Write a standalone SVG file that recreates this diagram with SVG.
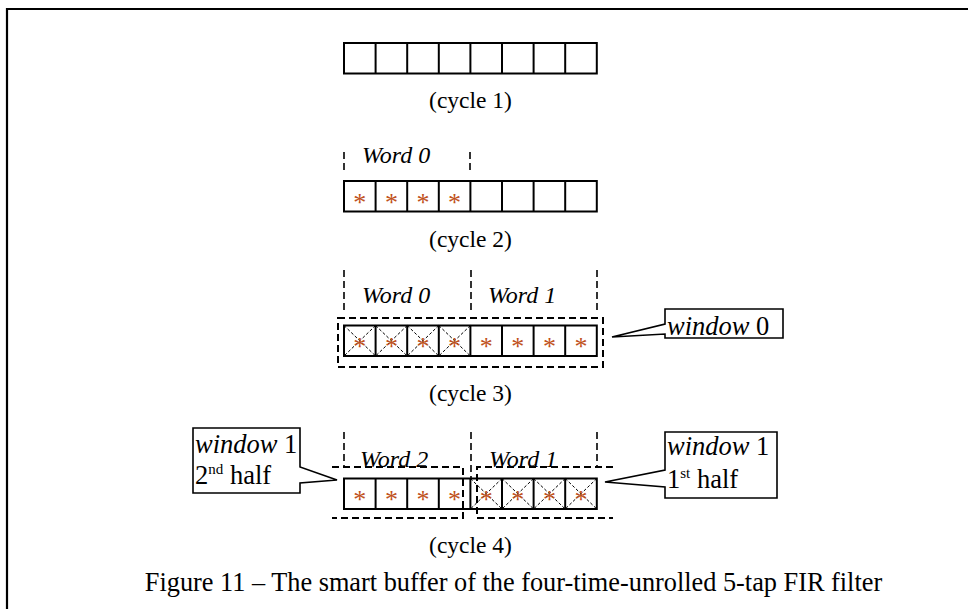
<svg xmlns="http://www.w3.org/2000/svg" width="968" height="609" viewBox="0 0 968 609">
  <style>
    .frame { fill: none; stroke: #000; stroke-width: 2.2; }
    .cell { fill: #fff; stroke: #000; stroke-width: 2; }
    .div { stroke: #000; stroke-width: 2; }
    .dash { fill: none; stroke: #000; stroke-width: 2; stroke-dasharray: 7 4; }
    .vdash { fill: none; stroke: #000; stroke-width: 1.6; stroke-dasharray: 7 4; }
    .diag { stroke: #000; stroke-width: 1; stroke-dasharray: 3 2; }
    .callout { fill: #fff; stroke: #000; stroke-width: 1.6; }
    .lbl { font-family: "Liberation Serif", "Times New Roman", serif; font-size: 23.5px; fill: #000; }
    .word { font-family: "Liberation Serif", "Times New Roman", serif; font-size: 24px; font-style: italic; fill: #000; }
    .co { font-family: "Liberation Serif", "Times New Roman", serif; font-size: 26.5px; fill: #000; }
    .star { font-family: "Liberation Serif", "Times New Roman", serif; font-size: 26px; fill: #c0501a; text-anchor: middle; }
    .cap { font-family: "Liberation Serif", "Times New Roman", serif; font-size: 26.3px; fill: #000; text-anchor: middle; }
  </style>
  <defs>
    <!-- one row of eight buffer cells -->
    <g id="row">
      <rect class="cell" x="0" y="0" width="252.8" height="30.5"/>
      <line class="div" x1="31.6" y1="0" x2="31.6" y2="30.5"/>
      <line class="div" x1="63.2" y1="0" x2="63.2" y2="30.5"/>
      <line class="div" x1="94.8" y1="0" x2="94.8" y2="30.5"/>
      <line class="div" x1="126.4" y1="0" x2="126.4" y2="30.5"/>
      <line class="div" x1="158" y1="0" x2="158" y2="30.5"/>
      <line class="div" x1="189.6" y1="0" x2="189.6" y2="30.5"/>
      <line class="div" x1="221.2" y1="0" x2="221.2" y2="30.5"/>
    </g>
    <!-- crossed-out cell diagonals -->
    <g id="xcell">
      <line class="diag" x1="0" y1="0" x2="31.6" y2="30.5"/>
      <line class="diag" x1="31.6" y1="0" x2="0" y2="30.5"/>
    </g>
  </defs>

  <!-- page frame -->
  <path class="frame" d="M7,609 V9 H968"/>

  <!-- cycle 1 -->
  <g id="cycle1">
    <use href="#row" x="344" y="43"/>
    <text class="lbl" x="470.5" y="108" text-anchor="middle">(cycle 1)</text>
  </g>

  <!-- cycle 2 -->
  <g id="cycle2">
    <line class="vdash" x1="344" y1="152" x2="344" y2="173"/>
    <line class="vdash" x1="470" y1="152" x2="470" y2="173"/>
    <text class="word" x="362" y="163">Word 0</text>
    <use href="#row" x="344" y="181"/>
    <text class="star" x="359.8" y="211">*</text>
    <text class="star" x="391.4" y="211">*</text>
    <text class="star" x="423" y="211">*</text>
    <text class="star" x="454.6" y="211">*</text>
    <text class="lbl" x="470.5" y="247" text-anchor="middle">(cycle 2)</text>
  </g>

  <!-- cycle 3 -->
  <g id="cycle3">
    <line class="vdash" x1="344" y1="270" x2="344" y2="312"/>
    <line class="vdash" x1="471" y1="270" x2="471" y2="312"/>
    <line class="vdash" x1="597" y1="270" x2="597" y2="312"/>
    <text class="word" x="362" y="303">Word 0</text>
    <text class="word" x="488" y="303">Word 1</text>
    <use href="#row" x="344" y="325.5"/>
    <use href="#xcell" x="344" y="325.5"/>
    <use href="#xcell" x="375.6" y="325.5"/>
    <use href="#xcell" x="407.2" y="325.5"/>
    <use href="#xcell" x="438.8" y="325.5"/>
    <text class="star" x="359.8" y="355">*</text>
    <text class="star" x="391.4" y="355">*</text>
    <text class="star" x="423" y="355">*</text>
    <text class="star" x="454.6" y="355">*</text>
    <text class="star" x="486.2" y="355">*</text>
    <text class="star" x="517.8" y="355">*</text>
    <text class="star" x="549.4" y="355">*</text>
    <text class="star" x="581" y="355">*</text>
    <rect class="dash" x="338" y="318" width="265" height="49"/>
    <text class="lbl" x="470.5" y="401" text-anchor="middle">(cycle 3)</text>
  </g>

  <!-- window 0 callout -->
  <g id="window0">
    <path class="callout" d="M665,309 H783 V338 H665 V334 L612,337 L665,324 Z"/>
    <text class="co" x="667" y="335"><tspan font-style="italic">window</tspan> 0</text>
  </g>

  <!-- cycle 4 -->
  <g id="cycle4">
    <line class="vdash" x1="344" y1="432" x2="344" y2="466"/>
    <line class="vdash" x1="471" y1="432" x2="471" y2="510"/>
    <line class="vdash" x1="597" y1="432" x2="597" y2="467"/>
    <text class="word" x="360" y="467">Word 2</text>
    <text class="word" x="489" y="467">Word 1</text>
    <use href="#row" x="344" y="478.5"/>
    <use href="#xcell" x="470.4" y="478.5"/>
    <use href="#xcell" x="502" y="478.5"/>
    <use href="#xcell" x="533.6" y="478.5"/>
    <use href="#xcell" x="565.2" y="478.5"/>
    <text class="star" x="359.8" y="508">*</text>
    <text class="star" x="391.4" y="508">*</text>
    <text class="star" x="423" y="508">*</text>
    <text class="star" x="454.6" y="508">*</text>
    <text class="star" x="486.2" y="508">*</text>
    <text class="star" x="517.8" y="508">*</text>
    <text class="star" x="549.4" y="508">*</text>
    <text class="star" x="581" y="508">*</text>
    <!-- window 1 halves -->
    <path class="dash" d="M332,467 H463 V518 H332"/>
    <path class="dash" d="M613,467 H477 V518 H613"/>
    <text class="lbl" x="470.5" y="553" text-anchor="middle">(cycle 4)</text>
  </g>

  <!-- window 1, 2nd half callout -->
  <g id="window1-second">
    <path class="callout" d="M193,428 H300 V467 L337,480 L300,483 V493 H193 Z"/>
    <text class="co" x="195" y="453"><tspan font-style="italic">window</tspan> 1</text>
    <text class="co" x="195" y="484">2<tspan font-size="15" dy="-10">nd</tspan><tspan dy="10"> half</tspan></text>
  </g>

  <!-- window 1, 1st half callout -->
  <g id="window1-first">
    <path class="callout" d="M665,432 H777 V498 H665 V487 L605,482 L665,470 Z"/>
    <text class="co" x="667" y="455"><tspan font-style="italic">window</tspan> 1</text>
    <text class="co" x="667" y="488">1<tspan font-size="15" dy="-10">st</tspan><tspan dy="10"> half</tspan></text>
  </g>

  <!-- caption -->
  <text class="cap" x="513.5" y="591">Figure 11 – The smart buffer of the four-time-unrolled 5-tap FIR filter</text>
</svg>
